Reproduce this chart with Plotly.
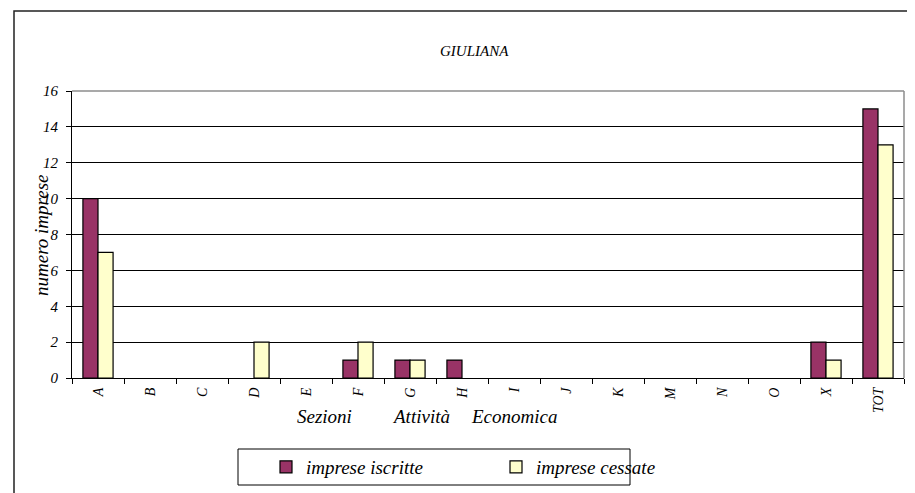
import plotly.graph_objects as go

sezioni = ['A', 'B', 'C', 'D', 'E', 'F', 'G', 'H', 'I', 'J', 'K', 'M', 'N', 'O', 'X', 'TOT']
iscritte = [10, 0, 0, 0, 0, 1, 1, 1, 0, 0, 0, 0, 0, 0, 2, 15]
cessate = [7, 0, 0, 2, 0, 2, 1, 0, 0, 0, 0, 0, 0, 0, 1, 13]

FONT = "Liberation Serif, Times New Roman, serif"

# page has an 8px body margin; positions below are page pixels
OFF = 8
W, H = 915 - OFF, 493 - OFF
# plot area on page: x 72..904, y 91..378
L, T = 72 - OFF, 91 - OFF
R, B = W - (904 - OFF), H - (378 - OFF)
pw, ph = W - L - R, H - T - B


def px(x):
    return (x - OFF - L) / pw


def py(y):
    return (H - B - (y - OFF)) / ph


def nz(vals):
    # zero bars are not drawn in the original
    return [v if v else None for v in vals]


fig = go.Figure()
fig.add_trace(go.Bar(
    x=sezioni, y=nz(iscritte), name='imprese iscritte',
    marker=dict(color='#993366', line=dict(color='black', width=1.2))))
fig.add_trace(go.Bar(
    x=sezioni, y=nz(cessate), name='imprese cessate',
    marker=dict(color='#FFFFCC', line=dict(color='black', width=1.2))))

fig.update_layout(
    width=W, height=H,
    margin=dict(l=L, r=R, t=T, b=B, autoexpand=False),
    paper_bgcolor='white', plot_bgcolor='white',
    barmode='group', bargap=0.42, bargroupgap=0,
    font=dict(family=FONT, color='black'),
    showlegend=True,
    legend=dict(
        orientation='h', x=px(266), xanchor='left',
        y=py(467), yanchor='middle',
        entrywidth=185, entrywidthmode='pixels',
        font=dict(family=FONT, size=19, style='italic'),
        bgcolor='rgba(0,0,0,0)', borderwidth=0),
)

fig.update_xaxes(
    type='category', tickangle=-90, tickson='boundaries',
    ticks='outside', ticklen=5, tickcolor='black',
    showline=True, linecolor='black', linewidth=1,
    showgrid=False, automargin=False, ticklabelstandoff=3,
    tickfont=dict(family=FONT, size=14, style='italic'))
fig.update_yaxes(
    range=[0, 16], dtick=2,
    ticks='outside', ticklen=5, tickcolor='black',
    showline=True, linecolor='black', linewidth=1,
    showgrid=True, gridcolor='black', gridwidth=1,
    zeroline=False, automargin=False, ticklabelstandoff=5,
    tickfont=dict(family=FONT, size=15, style='italic'))

# plot area border, grey on top and right
for x0, y0, x1, y1 in [(0, 1, 1, 1), (1, 0, 1, 1)]:
    fig.add_shape(type='line', xref='paper', yref='paper',
                  x0=x0, y0=y0, x1=x1, y1=y1,
                  line=dict(color='#8c8c8c', width=1.5), layer='above')
# outer chart frame
fig.add_shape(type='rect', xref='paper', yref='paper',
              x0=px(14), y0=py(600), x1=px(1000), y1=py(11),
              line=dict(color='#222222', width=1.5))
# legend box
fig.add_shape(type='rect', xref='paper', yref='paper',
              x0=px(238), y0=py(485), x1=px(630), y1=py(449),
              line=dict(color='black', width=1))

fig.add_annotation(text='GIULIANA', xref='paper', yref='paper',
                   x=px(474), y=py(51), xanchor='center', yanchor='middle',
                   showarrow=False,
                   font=dict(family=FONT, size=15, style='italic'))
fig.add_annotation(text='numero imprese', xref='paper', yref='paper',
                   x=px(41), y=py(235), xanchor='center', yanchor='middle',
                   textangle=-90, showarrow=False,
                   font=dict(family=FONT, size=19, style='italic'))
for word, xc in [('Sezioni', 324), ('Attività', 421), ('Economica', 514)]:
    fig.add_annotation(text=word, xref='paper', yref='paper',
                       x=px(xc), y=py(416), xanchor='center', yanchor='middle',
                       showarrow=False,
                       font=dict(family=FONT, size=19, style='italic'))

fig.write_html("out.html")
